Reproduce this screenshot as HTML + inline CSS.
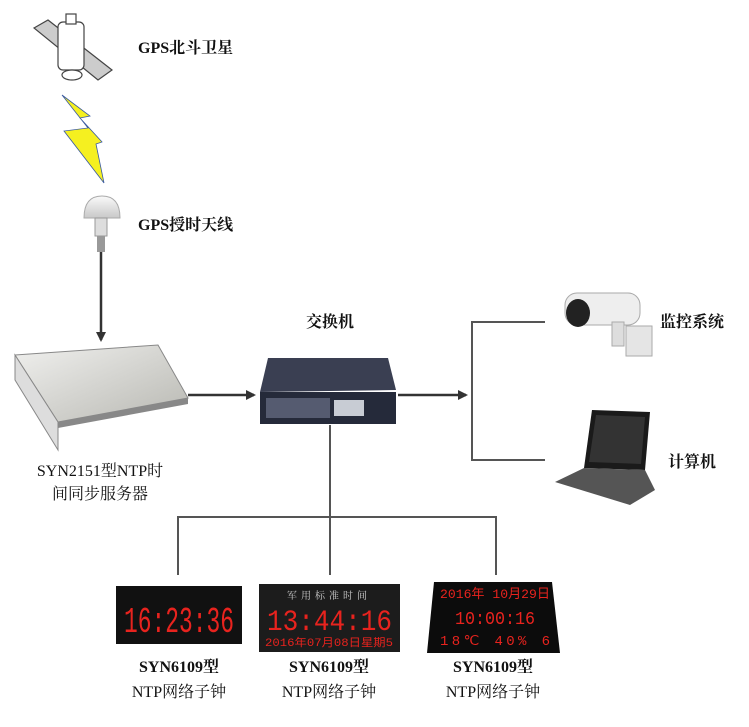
<!DOCTYPE html>
<html><head><meta charset="utf-8"><style>
body{margin:0;background:#fff}
svg{display:block}
text{font-family:"Liberation Serif","Noto Serif CJK SC",serif;fill:#111}
.b{font-weight:bold;font-size:16px}
.n{font-size:16px}
.d{font-family:"Liberation Mono",monospace;fill:#e8231e}
</style></head><body>
<svg width="749" height="727" viewBox="0 0 749 727">
<defs>
<marker id="a" markerWidth="10" markerHeight="10" refX="8" refY="5" orient="auto" markerUnits="userSpaceOnUse"><path d="M0,0 L10,5 L0,10 z" fill="#333"/></marker>
<linearGradient id="sv" x1="0" y1="0" x2="1" y2="1"><stop offset="0" stop-color="#f0f0ee"/><stop offset="1" stop-color="#b8b8b2"/></linearGradient>
<linearGradient id="dome" x1="0" y1="0" x2="0" y2="1"><stop offset="0" stop-color="#fafafa"/><stop offset="1" stop-color="#c8c8c8"/></linearGradient>
</defs>
<g stroke="#444" stroke-width="1.2">
<polygon points="34,28 48,20 112,70 98,80" fill="#ccc"/>
<rect x="58" y="22" width="26" height="48" rx="5" fill="#fff"/>
<rect x="66" y="14" width="10" height="10" fill="#fff"/>
<ellipse cx="72" cy="75" rx="10" ry="5" fill="#fff"/>
</g>
<polygon points="62,95 88,128 64,131 104,183 96,144 102,142 80,118 90,116" fill="#f5f020" stroke="#3a5aa0" stroke-width="0.8"/>
<path d="M84,218 Q84,196 102,196 Q120,196 120,218 Z" fill="url(#dome)" stroke="#aaa"/>
<rect x="95" y="218" width="12" height="18" fill="#ddd" stroke="#999"/>
<rect x="97" y="236" width="8" height="16" fill="#999"/>
<text x="138" y="53" class="b">GPS北斗卫星</text>
<text x="138" y="230" class="b">GPS授时天线</text>
<line x1="101" y1="252" x2="101" y2="340" stroke="#333" stroke-width="2.5" marker-end="url(#a)"/>
<polygon points="15,355 158,345 188,398 58,422" fill="url(#sv)" stroke="#888"/>
<polygon points="58,422 188,398 188,404 58,428" fill="#888"/>
<polygon points="15,355 58,422 58,450 15,380" fill="#ddd" stroke="#888"/>
<text x="100" y="476" class="n" text-anchor="middle">SYN2151型NTP时</text>
<text x="100" y="499" class="n" text-anchor="middle">间同步服务器</text>
<line x1="188" y1="395" x2="254" y2="395" stroke="#333" stroke-width="2.5" marker-end="url(#a)"/>
<polygon points="268,358 388,358 396,390 260,392" fill="#3a3f52"/>
<rect x="260" y="392" width="136" height="32" fill="#252a3a"/>
<rect x="266" y="398" width="64" height="20" fill="#555b70"/>
<rect x="334" y="400" width="30" height="16" fill="#c8ccd4"/>
<text x="330" y="327" class="b" text-anchor="middle">交换机</text>
<line x1="398" y1="395" x2="466" y2="395" stroke="#333" stroke-width="2.5" marker-end="url(#a)"/>
<path d="M545,322 H472 V460 H545" fill="none" stroke="#555" stroke-width="2"/>
<rect x="565" y="293" width="75" height="32" rx="12" fill="#eee" stroke="#aaa"/>
<ellipse cx="578" cy="313" rx="12" ry="14" fill="#222"/>
<rect x="612" y="322" width="12" height="24" fill="#ddd" stroke="#aaa"/>
<rect x="626" y="326" width="26" height="30" fill="#e5e5e5" stroke="#aaa"/>
<text x="660" y="327" class="b">监控系统</text>
<polygon points="592,410 650,412 645,470 584,468" fill="#1a1a1a"/>
<polygon points="596,415 645,417 641,464 589,462" fill="#333"/>
<polygon points="584,468 645,470 655,490 630,505 555,482" fill="#555"/>
<text x="668" y="467" class="b">计算机</text>
<path d="M330,425 V517 M178,575 V517 H496 V575 M330,517 V575" fill="none" stroke="#555" stroke-width="2"/>
<rect x="116" y="586" width="126" height="58" fill="#111"/>
<text x="124" y="632" class="d" font-size="36" textLength="110" lengthAdjust="spacingAndGlyphs">16:23:36</text>
<rect x="259" y="584" width="141" height="68" fill="#1c1c1c"/>
<text x="329" y="599" font-size="10" text-anchor="middle" style="fill:#ccc;letter-spacing:4px">军用标准时间</text>
<text x="267" y="630" class="d" font-size="30" textLength="125" lengthAdjust="spacingAndGlyphs">13:44:16</text>
<text x="265" y="646" class="d" font-size="11" textLength="128" lengthAdjust="spacingAndGlyphs">2016年07月08日星期5</text>
<polygon points="434,582 552,582 560,653 427,653" fill="#0c0c0c"/>
<text x="440" y="598" class="d" font-size="13" textLength="110" lengthAdjust="spacingAndGlyphs">2016年 10月29日</text>
<text x="455" y="624" class="d" font-size="18" textLength="80" lengthAdjust="spacingAndGlyphs">10:00:16</text>
<text x="440" y="645" class="d" font-size="14" textLength="110" lengthAdjust="spacing">18℃ 40% 6</text>
<text x="179" y="672" class="b" text-anchor="middle">SYN6109型</text>
<text x="179" y="697" class="n" text-anchor="middle">NTP网络子钟</text>
<text x="329" y="672" class="b" text-anchor="middle">SYN6109型</text>
<text x="329" y="697" class="n" text-anchor="middle">NTP网络子钟</text>
<text x="493" y="672" class="b" text-anchor="middle">SYN6109型</text>
<text x="493" y="697" class="n" text-anchor="middle">NTP网络子钟</text>
</svg>
</body></html>
